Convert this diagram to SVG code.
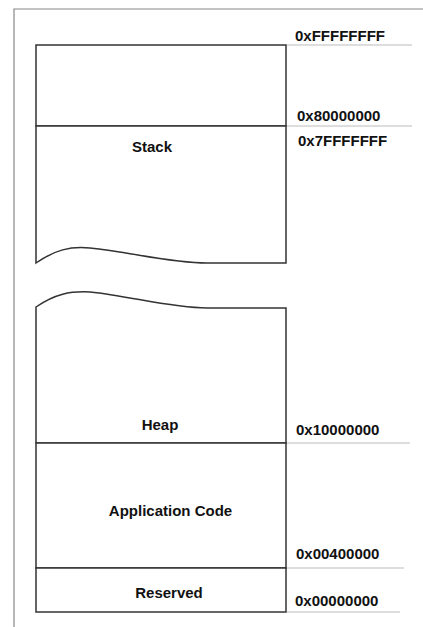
<svg xmlns="http://www.w3.org/2000/svg" width="423" height="627" viewBox="0 0 423 627">
<style>
.box{fill:#fff;stroke:#333;stroke-width:1.5;}
.lbl{font-family:"Liberation Sans",Arial,sans-serif;font-weight:bold;font-size:15px;fill:#111;}
.mid{text-anchor:middle;}
.tick{stroke:#bbb;stroke-width:1.2;fill:none;}
.frame{stroke:#888;stroke-width:1.2;fill:none;}
</style>
<rect width="423" height="627" fill="#fff"/>
<path class="frame" d="M14,627 L14,9 L423,9"/>
<g id="reserved-top">
<rect class="box" x="36" y="45" width="250" height="81"/>
</g>
<g id="stack">
<path class="box" d="M36,126 L286,126 L286,263 L207,263 C170,263 130,252 90,248 C70,246 55,250 36,263 Z"/>
<text class="lbl mid" x="152" y="152">Stack</text>
</g>
<g id="heap">
<path class="box" d="M36,307 C55,294 70,291 90,292 C130,296 170,308 207,308 L286,308 L286,443 L36,443 Z"/>
<text class="lbl mid" x="160" y="430">Heap</text>
</g>
<g id="appcode">
<rect class="box" x="36" y="443" width="250" height="125"/>
<text class="lbl mid" x="170.5" y="516">Application Code</text>
</g>
<g id="reserved">
<rect class="box" x="36" y="568" width="250" height="44"/>
<text class="lbl mid" x="169" y="598">Reserved</text>
</g>
<g id="connectors">
<line class="tick" x1="287" y1="45" x2="412" y2="45"/>
<line class="tick" x1="287" y1="126" x2="412" y2="126"/>
<line class="tick" x1="287" y1="443" x2="410" y2="443"/>
<line class="tick" x1="287" y1="568" x2="404" y2="568"/>
<line class="tick" x1="287" y1="612" x2="400" y2="612"/>
</g>
<g id="addresses">
<text class="lbl" x="295" y="41">0xFFFFFFFF</text>
<text class="lbl" x="297" y="121">0x80000000</text>
<text class="lbl" x="298" y="146">0x7FFFFFFF</text>
<text class="lbl" x="296" y="435">0x10000000</text>
<text class="lbl" x="296" y="559">0x00400000</text>
<text class="lbl" x="295" y="606">0x00000000</text>
</g>
</svg>
